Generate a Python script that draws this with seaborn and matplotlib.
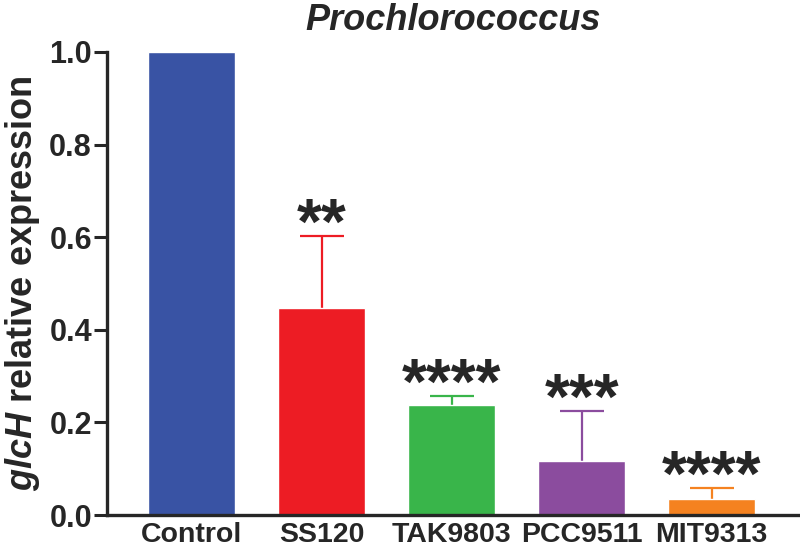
import numpy as np
import pandas as pd
import seaborn as sns
import matplotlib.pyplot as plt

strains = ["Control", "SS120", "TAK9803", "PCC9511", "MIT9313"]
expression = [1.0, 0.446, 0.237, 0.116, 0.035]
err_up = [0.0, 0.157, 0.020, 0.109, 0.023]
stars = ["", "**", "****", "***", "****"]
colors = ["#3953A4", "#ED1C24", "#39B54A", "#8B4C9E", "#F58220"]

sns.set_style("ticks")
plt.rcParams["font.family"] = ["Liberation Sans", "DejaVu Sans"]
plt.rcParams["mathtext.fontset"] = "custom"
plt.rcParams["mathtext.bfit"] = "Liberation Sans:italic:bold"
plt.rcParams["mathtext.rm"] = "Liberation Sans:bold"

df = pd.DataFrame({"strain": strains, "expr": expression})

fig = plt.figure(figsize=(8, 5.48), dpi=100)
ax = fig.add_axes([0.134, 0.0602, 0.866, 0.845])

sns.barplot(data=df, x="strain", y="expr", hue="strain", palette=colors,
            width=0.67, errorbar=None, legend=False, saturation=1, ax=ax,
            zorder=2)

xs = np.arange(len(strains))
for i in range(len(strains)):
    if err_up[i] > 0:
        eb = ax.errorbar(xs[i], expression[i], yerr=[[0], [err_up[i]]],
                         fmt="none", ecolor=colors[i], elinewidth=1.6,
                         capsize=16, capthick=1.6, zorder=1)
        # only the upper cap, like the original (one-sided SD)
        for cap in eb[1]:
            if np.allclose(cap.get_ydata(), expression[i]):
                cap.set_visible(False)
    if stars[i]:
        ax.text(xs[i], expression[i] + err_up[i] - 0.045, stars[i],
                ha="center", va="bottom", fontsize=46, fontweight="bold")

ax.set_xlim(-0.65, 4.68)
ax.set_ylim(0, 1.0)
ax.set_yticks([0.0, 0.2, 0.4, 0.6, 0.8, 1.0])
ax.set_yticklabels(["0.0", "0.2", "0.4", "0.6", "0.8", "1.0"])
ax.tick_params(axis="y", length=9.5, width=2.2, labelsize=22, pad=1.5)
ax.tick_params(axis="x", length=0, labelsize=20.5, pad=5)
for lab in ax.get_xticklabels() + ax.get_yticklabels():
    lab.set_fontweight("bold")
for side in ["left", "bottom"]:
    ax.spines[side].set_linewidth(2.4)
sns.despine(ax=ax)

ax.set_xlabel("")
ax.set_ylabel(r"$\mathbfit{glcH}$ relative expression", fontsize=26,
              fontweight="bold", labelpad=5)
ax.set_title("Prochlorococcus", fontsize=26, fontweight="bold",
             fontstyle="italic", pad=16)

plt.savefig("out.png", dpi=100)
